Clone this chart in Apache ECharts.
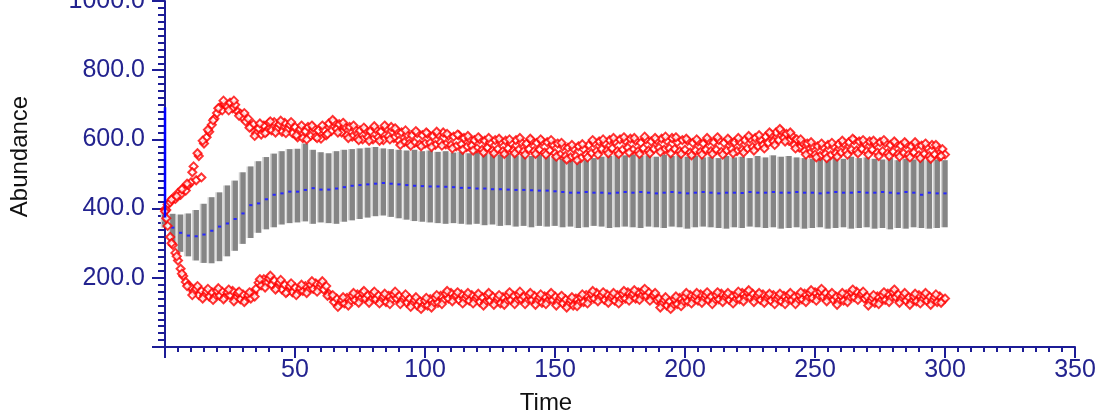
<!DOCTYPE html>
<html>
<head>
<meta charset="utf-8">
<script src="https://cdn.jsdelivr.net/npm/echarts@6/dist/echarts.min.js"></script>
<style>
html,body{margin:0;padding:0;background:#fff;}
#chart{width:1101px;height:415px;}
</style>
</head>
<body>
<div id="chart"></div>
<script>
// ---- data ----
var barStart = 0, barStep = 3;   // bars at t = 0, 3, ..., 300

var barMean = [
372,345,330,322,320,325,336,348,357,370,
386,410,415,427,440,444,449,449,454,459,
455,455,458,462,466,468,470,472,474,472,
470,468,466,465,464,464,463,462,460,460,
458,458,456,456,455,454,454,453,452,452,
450,448,446,446,448,446,446,444,446,448,
446,448,446,444,446,448,446,444,446,448,
446,444,446,446,445,448,446,446,448,446,
446,448,446,446,444,446,448,446,446,448,
446,446,448,446,444,448,446,440,446,444,
444];

var barHigh = [
395,385,383,386,396,414,433,447,467,481,
505,522,537,549,559,566,572,573,588,570,
563,560,566,570,572,574,576,578,574,572,
570,568,570,566,568,564,566,562,564,560,
562,558,560,556,560,554,558,552,556,554,
550,544,538,536,540,546,550,552,556,554,
556,552,554,550,556,552,554,550,552,548,
550,546,552,548,550,546,552,548,554,550,
552,548,546,544,546,542,548,544,550,546,
548,544,542,546,540,544,542,546,540,542,
540];

var barLow = [
345,300,275,262,250,243,242,248,262,278,
298,315,330,340,346,354,358,360,363,356,
360,358,356,362,366,370,374,378,380,376,
372,368,364,362,360,358,356,358,356,354,
356,352,354,350,352,348,350,346,350,348,
350,346,348,344,346,350,348,344,346,348,
346,344,348,346,344,348,346,342,346,348,
346,344,342,346,344,348,346,344,346,342,
344,346,342,344,346,342,344,346,342,344,
346,342,344,340,344,342,346,344,342,344,
346];

// red markers, set A: one value per time unit t = 0..300
var upperBand = [
398,412,418,430,428,445,440,458,452,468,
476,522,482,552,490,588,606,622,642,660,
676,692,684,702,694,706,690,700,680,674,
662,652,660,636,644,618,632,614,640,622,
648,626,650,630,644,622,648,628,642,618,
636,606,630,604,624,636,610,634,608,626,
602,628,612,646,624,650,630,644,620,638,
612,636,608,630,604,626,600,628,606,624,
600,630,606,622,598,632,610,636,604,626,
596,620,592,614,588,612,590,618,586,612,
588,616,590,610,584,614,592,620,586,610,
584,608,580,612,586,604,578,602,582,598,
574,600,570,596,576,592,568,598,572,594,
566,596,574,590,568,598,570,592,566,588,
572,596,566,590,570,594,562,592,568,586,
560,588,556,580,552,576,548,574,552,580,
546,572,556,584,560,590,566,594,572,590,
568,598,574,594,566,600,570,596,576,602,
570,596,566,590,574,600,568,594,572,598,
576,602,570,596,574,604,572,592,566,598,
570,596,562,590,568,594,564,588,570,596,
566,592,570,598,564,590,568,596,572,592,
566,594,570,598,574,602,578,604,580,600,
584,608,590,614,594,620,598,624,604,616,
596,612,584,600,576,592,566,588,560,582,
556,580,552,578,558,584,554,580,560,586,
562,588,566,592,570,598,568,594,572,590,
566,594,570,588,562,592,566,590,560,584,
564,588,558,582,560,586,556,580,562,584,
554,582,558,578,552,584,556,576,550,572,
556];

var lowerBand = [
392,350,318,295,272,250,226,205,188,178,
172,160,168,150,162,148,160,146,158,144,
162,148,160,144,158,150,162,140,156,138,
152,136,150,140,156,168,186,178,196,184,
198,180,192,172,186,166,180,160,176,158,
172,156,170,162,176,164,180,168,184,170,
182,166,176,154,146,130,140,122,136,126,
142,130,148,136,152,138,156,140,150,136,
154,138,150,134,146,130,148,136,152,140,
148,132,144,128,140,124,136,120,132,118,
134,120,138,124,142,128,148,134,154,140,
156,142,150,136,152,138,148,134,150,136,
146,130,144,128,150,134,146,130,142,126,
144,130,150,136,148,132,152,138,146,132,
150,136,148,132,144,128,146,132,150,136,
146,130,142,126,138,122,136,120,140,126,
144,130,150,136,154,140,156,142,150,136,
152,138,148,134,150,136,154,140,158,144,
154,140,158,146,162,148,158,144,150,136,
140,124,136,120,132,118,138,124,142,128,
146,132,150,136,148,134,152,138,150,136,
146,132,150,138,154,140,150,136,148,134,
152,138,156,142,158,144,154,140,150,136,
152,138,148,134,150,136,146,132,148,134,
150,136,146,132,150,138,154,140,156,142,
158,144,160,146,156,142,150,136,146,132,
148,134,152,140,158,144,160,146,154,140,
146,130,142,128,146,132,150,136,154,140,
158,144,152,138,148,134,144,130,146,132,
150,136,148,134,146,132,144,130,146,134,
140];

// red markers, set B: t = 0.5, 2.5, ..., 298.5
var bandBStart = 0.5, bandBStep = 2;
var upperBandB = [
396,426,436,456,472, 505,560,596,628,655,
690,712,684,712,668, 676,634,610,646,618,
652,620,654,618,650, 612,640,600,640,604,
640,616,656,620,648, 604,640,598,634,596,
638,596,640,600,632, 584,626,582,624,580,
620,578,622,582,616, 574,614,570,610,568,
606,562,604,560,602, 558,600,560,604,556,
602,558,600,556,598, 550,590,542,584,540,
586,548,598,556,600, 560,604,558,606,562,
604,558,608,560,604, 564,608,560,606,558,
602,554,600,556,604, 558,606,556,602,560,
604,562,610,568,612, 574,620,584,630,594,
620,574,600,556,592, 548,588,546,590,550,
596,556,602,560,598, 556,596,552,598,552,
594,550,592,548,592, 546,588,544,584,552];

var lowerBandB = [
372,300,262,212,176, 150,176,140,168,136,
170,138,166,132,160, 130,158,146,196,172,
206,166,194,156,184, 150,180,156,190,160,
190,148,150,116,144, 120,156,128,162,128,
160,126,154,124,160, 124,152,116,144,110,
142,114,150,124,162, 132,158,126,156,126,
154,120,156,122,150, 122,158,124,160,124,
156,122,152,124,156, 120,148,114,144,118,
152,126,162,132,158, 128,156,126,162,134,
164,136,168,134,156, 114,144,110,146,118,
156,126,156,128,158, 124,158,130,156,126,
160,132,164,130,156, 128,154,124,154,124,
156,124,158,130,164, 134,168,132,156,122,
156,130,166,136,160, 120,150,124,158,130,
166,128,156,122,154, 126,156,122,152,128];

var initRange = [374, 693];  // highlighted initial range on the t=0 line

var xTicks = {min: 0, max: 350, interval: 50};
var yTicks = {min: 0, max: 1000, interval: 200};

// ---- build series data ----
var barData = barMean.map(function (m, i) {
  return [barStart + i * barStep, barLow[i], barHigh[i], m];
});
function bandA(arr) { return arr.map(function (v, t) { return [t, v]; }); }
function bandB(arr) { return arr.map(function (v, i) { return [bandBStart + i * bandBStep, v]; }); }

var FONT = "'Liberation Sans', Arial, sans-serif";
var AXIS = '#1c1c96';
var LABEL = '#23238f';
var RED = '#ff0000';

function redSeries(name, data) {
  return {
    type: 'scatter',
    name: name,
    data: data,
    symbol: 'emptyDiamond',
    symbolSize: 8,
    itemStyle: {color: RED, borderColor: RED, borderWidth: 2},
    z: 3
  };
}

var chart = echarts.init(document.getElementById('chart'), null, {renderer: 'canvas'});
chart.setOption({
  animation: false,
  backgroundColor: '#ffffff',
  grid: {left: 165, right: 26, top: 1, bottom: 68, containLabel: false, outerBoundsMode: 'none'},
  xAxis: {
    type: 'value',
    min: xTicks.min, max: xTicks.max, interval: xTicks.interval,
    name: 'Time',
    nameLocation: 'middle',
    nameGap: 44,
    nameTextStyle: {fontFamily: FONT, fontSize: 24, color: '#111', padding: [0, 148, 0, 0]},
    axisLine: {show: true, lineStyle: {color: AXIS, width: 2}},
    axisTick: {show: true, inside: false, length: 11, lineStyle: {color: AXIS, width: 2}},
    minorTick: {show: true, splitNumber: 10, length: 5, lineStyle: {color: AXIS, width: 2}},
    axisLabel: {showMinLabel: false, margin: 11, fontFamily: FONT, fontSize: 25, color: LABEL},
    splitLine: {show: false},
    minorSplitLine: {show: false}
  },
  yAxis: {
    type: 'value',
    min: yTicks.min, max: yTicks.max, interval: yTicks.interval,
    name: 'Abundance',
    nameLocation: 'middle',
    nameGap: 133,
    nameTextStyle: {fontFamily: FONT, fontSize: 24, color: '#111', padding: [0, 0, 0, 35]},
    axisLine: {show: true, lineStyle: {color: AXIS, width: 2}},
    axisTick: {show: true, inside: false, length: 13, lineStyle: {color: AXIS, width: 2}},
    minorTick: {show: true, splitNumber: 10, length: 7, lineStyle: {color: AXIS, width: 2}},
    axisLabel: {
      showMinLabel: false, margin: 20, fontFamily: FONT, fontSize: 25, color: LABEL,
      formatter: function (v) { return v.toFixed(1); }
    },
    splitLine: {show: false},
    minorSplitLine: {show: false}
  },
  series: [
    {
      type: 'custom',
      name: 'range',
      data: barData,
      encode: {x: 0, y: [1, 2, 3]},
      z: 2,
      clip: false,
      renderItem: function (params, api) {
        var t = api.value(0);
        var lo = api.coord([t, api.value(1)]);
        var hi = api.coord([t, api.value(2)]);
        var mn = api.coord([t, api.value(3)]);
        var step = api.size([barStep, 0])[0];
        var w = step * 0.7;
        var x0 = lo[0] - w / 2;
        return {
          type: 'group',
          children: [
            {type: 'line', shape: {x1: x0 - 0.8, y1: hi[1], x2: x0 - 0.8, y2: lo[1]},
             style: {stroke: '#cfcfcf', lineWidth: 1.4}},
            {type: 'rect', shape: {x: x0, y: hi[1], width: w, height: lo[1] - hi[1]},
             style: {fill: '#858585'}},
            {type: 'line', shape: {x1: mn[0] - 1.6, y1: mn[1], x2: mn[0] + 1.6, y2: mn[1]},
             style: {stroke: '#2828ff', lineWidth: 2}}
          ]
        };
      }
    },
    redSeries('upperA', bandA(upperBand)),
    redSeries('upperB', bandB(upperBandB)),
    redSeries('lowerA', bandA(lowerBand)),
    redSeries('lowerB', bandB(lowerBandB)),
    {
      type: 'line',
      name: 'init',
      data: [[0, initRange[0]], [0, initRange[1]]],
      symbol: 'none',
      lineStyle: {color: '#0000ff', width: 2.5},
      z: 4
    }
  ]
});
</script>
</body>
</html>
